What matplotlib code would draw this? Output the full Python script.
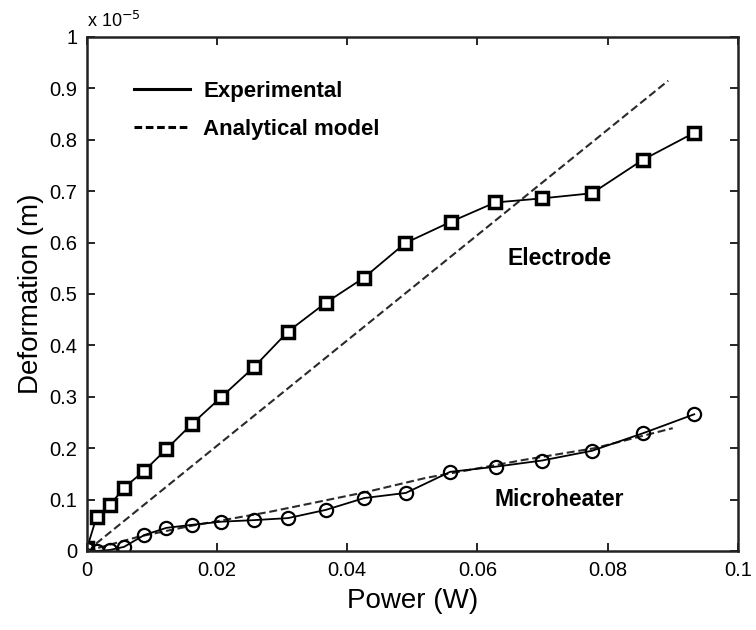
import matplotlib
matplotlib.use("Agg")
import matplotlib.pyplot as plt
from matplotlib.lines import Line2D

plt.rcParams['font.family'] = ['Liberation Sans', 'DejaVu Sans']

# Dane (ugięcie w jednostkach 1e-5 m)
power_el = [0.0, 0.0015, 0.0035, 0.0057, 0.0088, 0.0122, 0.0162, 0.0206, 0.0256,
            0.0309, 0.0367, 0.0426, 0.0489, 0.0560, 0.0627, 0.0699, 0.0776, 0.0854, 0.0932]
defl_el = [0.005, 0.067, 0.089, 0.123, 0.156, 0.198, 0.248, 0.299, 0.357,
           0.427, 0.483, 0.532, 0.599, 0.641, 0.678, 0.686, 0.696, 0.761, 0.813]

power_mh = [0.0, 0.0015, 0.0035, 0.0057, 0.0088, 0.0122, 0.0162, 0.0206, 0.0256,
            0.0309, 0.0367, 0.0426, 0.0490, 0.0558, 0.0628, 0.0699, 0.0776, 0.0854, 0.0933]
defl_mh = [0.004, 0.0, 0.002, 0.008, 0.031, 0.045, 0.051, 0.057, 0.060,
           0.064, 0.080, 0.103, 0.113, 0.154, 0.164, 0.176, 0.195, 0.229, 0.266]

model_el_x = [0.0, 0.0893]
model_el_y = [0.0, 0.915]

model_mh_x = [0.0, 0.008, 0.016, 0.028, 0.043, 0.052, 0.067, 0.078, 0.090]
model_mh_y = [0.0, 0.028, 0.049, 0.076, 0.115, 0.142, 0.177, 0.200, 0.239]

xticks = [0, 0.02, 0.04, 0.06, 0.08, 0.1]
xtick_labels = ['0', '0.02', '0.04', '0.06', '0.08', '0.1']
yticks = [0, 0.1, 0.2, 0.3, 0.4, 0.5, 0.6, 0.7, 0.8, 0.9, 1.0]
ytick_labels = ['0', '0.1', '0.2', '0.3', '0.4', '0.5', '0.6', '0.7', '0.8', '0.9', '1']

fig = plt.figure(figsize=(7.56, 6.3), dpi=100)
ax = fig.add_axes([0.115, 0.1254, 0.861, 0.8159])

dash = (0, (3.8, 1.8))
ax.plot(model_el_x, model_el_y, color='#2a2a2a', lw=1.5, linestyle=dash)
ax.plot(model_mh_x, model_mh_y, color='#2a2a2a', lw=1.5, linestyle=dash)

ax.plot(power_el, defl_el, color='black', lw=1.3, marker='s', markersize=9,
        markerfacecolor='white', markeredgecolor='black', markeredgewidth=2.5)
ax.plot(power_mh, defl_mh, color='black', lw=1.3, marker='o', markersize=9.5,
        markerfacecolor='none', markeredgecolor='black', markeredgewidth=1.6)

ax.set_xlim(0, 0.1)
ax.set_ylim(0, 1)
ax.set_xticks(xticks)
ax.set_xticklabels(xtick_labels)
ax.set_yticks(yticks)
ax.set_yticklabels(ytick_labels)
ax.tick_params(direction='in', length=6, width=1.2, top=True, right=True,
               labelsize=14.5, pad=7, colors='black')
for s in ax.spines.values():
    s.set_linewidth(1.8)
    s.set_color('#222222')

ax.set_xlabel('Power (W)', fontsize=20, labelpad=6)
ax.set_ylabel('Deformation (m)', fontsize=20, labelpad=4)

ax.text(0.0, 1.012, r'x 10$^{-5}$', transform=ax.transAxes, fontsize=13,
        ha='left', va='bottom')

# Legenda
handles = [Line2D([], [], color='black', lw=2.2),
           Line2D([], [], color='black', lw=2.2, linestyle=(0, (2.5, 1.2)))]
ax.legend(handles, ['Experimental', 'Analytical model'], loc='upper left',
          bbox_to_anchor=(0.042, 0.953), frameon=False, handlelength=2.5,
          handletextpad=0.6, labelspacing=0.75,
          prop={'weight': 'bold', 'size': 16})

ax.text(0.0726, 0.57, 'Electrode', fontsize=16.5, fontweight='bold',
        ha='center', va='center')
ax.text(0.0726, 0.10, 'Microheater', fontsize=16.5, fontweight='bold',
        ha='center', va='center')

fig.savefig('out.png', dpi=100)
